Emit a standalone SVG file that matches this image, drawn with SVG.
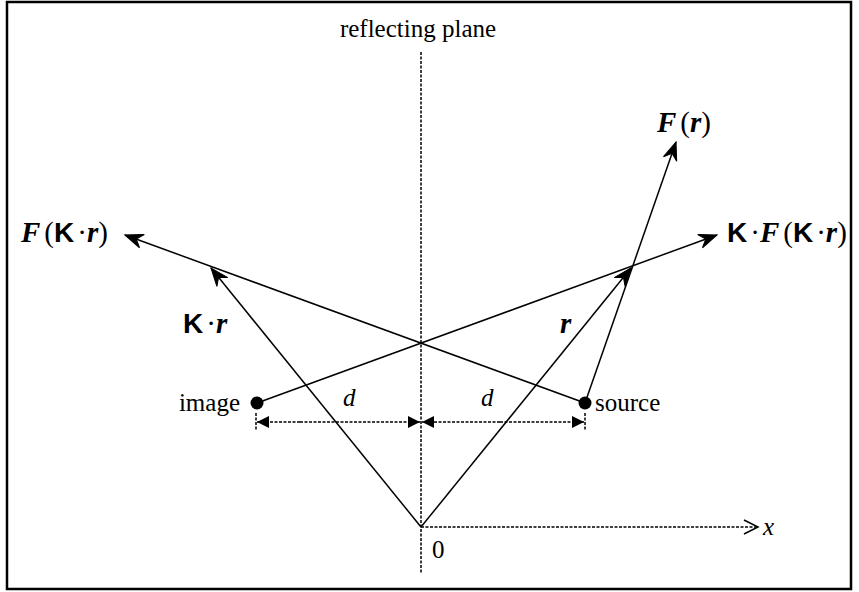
<svg xmlns="http://www.w3.org/2000/svg" width="859" height="592" viewBox="0 0 859 592">
<style>
.t{font-family:"Liberation Serif","Times New Roman",serif;font-size:25px;fill:#000}
.m{font-family:"Liberation Serif","Times New Roman",serif;font-size:29px;fill:#000}
.it{font-style:italic}
.bi{font-family:"Liberation Serif","Times New Roman",serif;font-style:italic;font-weight:bold}
.k{font-family:"Liberation Sans",Arial,sans-serif;font-weight:bold;font-size:28px}
.ln{stroke:#000;stroke-width:1.5;fill:none}
.dash{stroke:#000;stroke-width:1.5;fill:none;stroke-dasharray:3 1.5}
</style>
<defs>
<marker id="ah" markerUnits="userSpaceOnUse" markerWidth="24" markerHeight="20" viewBox="-20 -10 24 20" refX="0" refY="0" orient="auto">
<path d="M0,0 L-18,-7 L-12,0 L-18,7 Z" fill="#000" stroke="#000" stroke-width="1" stroke-linejoin="miter"/>
</marker>
<marker id="tri" markerUnits="userSpaceOnUse" markerWidth="16" markerHeight="14" viewBox="-14 -7 16 14" refX="0" refY="0" orient="auto">
<path d="M0,0 L-12,-6 L-12,6 Z" fill="#000"/>
</marker>
</defs>
<rect x="7" y="2" width="844" height="587" fill="#fff" stroke="#000" stroke-width="2.5"/>
<g id="connectors">
<line class="dash" x1="421" y1="52" x2="421" y2="574"/>
<line class="dash" x1="421" y1="527" x2="757" y2="527"/>
<polyline class="ln" points="744,520 758,527 744,534"/>
<line class="ln" x1="421" y1="527" x2="211" y2="268" marker-end="url(#ah)"/>
<line class="ln" x1="421" y1="527" x2="631" y2="268" marker-end="url(#ah)"/>
<line class="ln" x1="585" y1="403" x2="125" y2="235" marker-end="url(#ah)"/>
<line class="ln" x1="257" y1="403" x2="717" y2="235" marker-end="url(#ah)"/>
<line class="ln" x1="585" y1="403" x2="676" y2="142" marker-end="url(#ah)"/>
<line class="dash" x1="256" y1="413" x2="256" y2="431"/>
<line class="dash" x1="585" y1="413" x2="585" y2="431"/>
<line class="dash" x1="300" y1="422" x2="257" y2="422" marker-end="url(#tri)"/>
<line class="dash" x1="300" y1="422" x2="420" y2="422" marker-end="url(#tri)"/>
<line class="dash" x1="500" y1="422" x2="422" y2="422" marker-end="url(#tri)"/>
<line class="dash" x1="500" y1="422" x2="584" y2="422" marker-end="url(#tri)"/>
</g>
<g id="image"><circle cx="257" cy="403" r="6.5" fill="#000"/><text class="t" x="240" y="411" text-anchor="end">image</text></g>
<g id="source"><circle cx="585" cy="403" r="6.5" fill="#000"/><text class="t" x="595" y="411">source</text></g>
<g id="plane"><text class="t" x="418" y="37" text-anchor="middle">reflecting plane</text></g>
<g id="origin"><text class="t" x="432" y="558">0</text></g>
<g id="xlabel"><text class="t it" x="763" y="535">x</text></g>
<g id="d1"><text class="t it" x="343" y="406">d</text></g>
<g id="d2"><text class="t it" x="481" y="406">d</text></g>
<g id="Fr"><text class="m" x="657" y="132"><tspan class="bi">F</tspan><tspan dx="4">(</tspan><tspan class="bi">r</tspan>)</text></g>
<g id="FKr"><text class="m" x="21" y="242"><tspan class="bi">F</tspan><tspan dx="4">(</tspan><tspan class="k">K</tspan><tspan dx="3">·</tspan><tspan class="bi">r</tspan>)</text></g>
<g id="KFKr"><text class="m" x="727" y="242"><tspan class="k">K</tspan><tspan dx="3">·</tspan><tspan class="bi">F</tspan><tspan dx="4">(</tspan><tspan class="k">K</tspan><tspan dx="3">·</tspan><tspan class="bi">r</tspan>)</text></g>
<g id="Kr"><text class="m" x="183" y="333"><tspan class="k">K</tspan><tspan dx="3">·</tspan><tspan class="bi">r</tspan></text></g>
<g id="r"><text class="m bi" x="560" y="333">r</text></g>
</svg>
